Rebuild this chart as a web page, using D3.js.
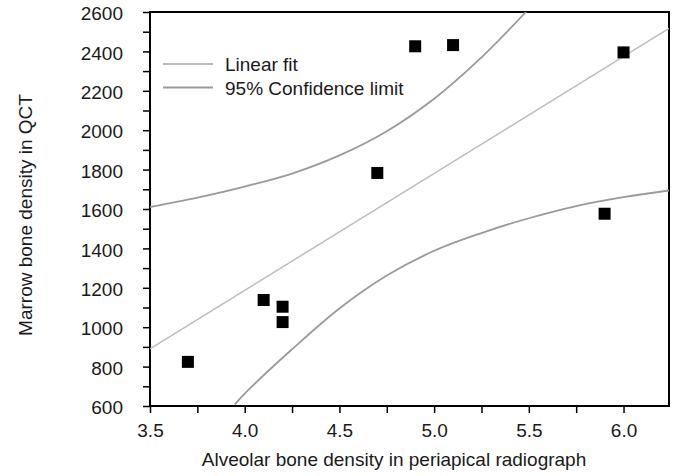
<!DOCTYPE html>
<html>
<head>
<meta charset="utf-8">
<script src="https://cdn.jsdelivr.net/npm/d3@7"></script>
<style>
  body { margin: 0; background: #fff; }
  svg { font-family: "Liberation Sans", Arial, sans-serif; }
</style>
</head>
<body>
<div id="chart"></div>
<script>
// Measured points (alveolar density, marrow density)
const radiograph = [3.7, 4.1, 4.2, 4.2, 4.7, 4.9, 5.1, 5.9, 6.0];
const qct = [824, 1138, 1104, 1026, 1783, 2426, 2432, 1576, 2395];

// Linear fit end points
const fitX = [3.5, 6.24];
const fitY = [890, 2517];

// 95% confidence limits
const upperX = [3.5, 3.75, 4.0, 4.25, 4.5, 4.75, 5.0, 5.25, 5.485];
const upperY = [1610, 1658, 1714, 1780, 1872, 1995, 2160, 2370, 2600];
const lowerX = [3.948, 4.0, 4.25, 4.5, 4.75, 5.0, 5.25, 5.5, 5.75, 6.0, 6.24];
const lowerY = [608, 663, 888, 1095, 1262, 1388, 1478, 1553, 1615, 1660, 1694];

const xTicks = [3.5, 3.75, 4.0, 4.25, 4.5, 4.75, 5.0, 5.25, 5.5, 5.75, 6.0];
const yTicks = d3.range(600, 2601, 100);

const margin = { top: 12, right: 9, bottom: 70, left: 150 };
const width = 678 - margin.left - margin.right;
const height = 476 - margin.top - margin.bottom;

const svg = d3.select("#chart")
    .append("svg")
    .attr("width", width + margin.left + margin.right)
    .attr("height", height + margin.top + margin.bottom)
    .append("g")
    .attr("transform", "translate(" + margin.left + "," + margin.top + ")");

const x = d3.scaleLinear().domain([3.5, 6.24]).range([0, width]);
const y = d3.scaleLinear().domain([600, 2600]).range([height, 0]);

svg.append("clipPath").attr("id", "plot-clip")
    .append("rect").attr("width", width).attr("height", height);

// axes
const xAxis = svg.append("g")
    .attr("transform", "translate(0," + height + ")")
    .call(d3.axisBottom(x)
        .tickValues(xTicks)
        .tickSize(7)
        .tickFormat(d => (Math.round(d * 100) % 50 === 0) ? d3.format(".1f")(d) : ""));
xAxis.select(".domain").remove();
xAxis.selectAll("line").attr("stroke", "#000").attr("stroke-width", 1.5);
xAxis.selectAll("text")
    .attr("y", 31).attr("dy", 0)
    .style("font-size", "19px").attr("fill", "#1a1a1a");

const yAxis = svg.append("g")
    .call(d3.axisLeft(y)
        .tickValues(yTicks)
        .tickSize(7)
        .tickFormat(d => d % 200 === 0 ? d : ""));
yAxis.select(".domain").remove();
yAxis.selectAll("line").attr("stroke", "#000").attr("stroke-width", 1.5);
yAxis.selectAll("text")
    .attr("x", -27).attr("dy", "0.4em")
    .style("font-size", "19px").attr("fill", "#1a1a1a");

// frame
svg.append("rect")
    .attr("width", width).attr("height", height)
    .attr("fill", "none").attr("stroke", "#000").attr("stroke-width", 2);

const lines = svg.append("g").attr("clip-path", "url(#plot-clip)");
const line = d3.line().x(d => x(d[0])).y(d => y(d[1]));
const curve = d3.line().x(d => x(d[0])).y(d => y(d[1])).curve(d3.curveCatmullRom);

lines.append("path")
    .datum(d3.zip(fitX, fitY))
    .attr("d", line)
    .attr("fill", "none").attr("stroke", "#bdbdbd").attr("stroke-width", 1.5);

[d3.zip(upperX, upperY), d3.zip(lowerX, lowerY)].forEach(pts => {
    lines.append("path")
        .datum(pts)
        .attr("d", curve)
        .attr("fill", "none").attr("stroke", "#9a9a9a").attr("stroke-width", 1.8);
});

// points
svg.selectAll(".pt")
    .data(d3.zip(radiograph, qct))
    .enter()
    .append("rect")
    .attr("class", "pt")
    .attr("x", d => x(d[0]) - 6)
    .attr("y", d => y(d[1]) - 6)
    .attr("width", 12).attr("height", 12)
    .attr("fill", "#000");

// legend
const legend = [
    { label: "Linear fit", color: "#bdbdbd" },
    { label: "95% Confidence limit", color: "#9a9a9a" }
];
const lg = svg.append("g").attr("transform", "translate(13,52)");
legend.forEach((d, i) => {
    lg.append("line")
        .attr("x1", 0).attr("x2", 50)
        .attr("y1", i * 23.5).attr("y2", i * 23.5)
        .attr("stroke", d.color).attr("stroke-width", 1.8);
    lg.append("text")
        .attr("x", 62).attr("y", i * 23.5 + 7)
        .style("font-size", "19px").attr("fill", "#1a1a1a")
        .text(d.label);
});

// axis titles
svg.append("text")
    .attr("text-anchor", "middle")
    .attr("x", 244)
    .attr("y", height + 60)
    .style("font-size", "19px").attr("fill", "#1a1a1a")
    .text("Alveolar bone density in periapical radiograph");

svg.append("text")
    .attr("text-anchor", "middle")
    .attr("transform", "translate(" + (32 - margin.left) + "," + (215 - margin.top) + ") rotate(-90)")
    .style("font-size", "19px").attr("fill", "#1a1a1a")
    .text("Marrow bone density in QCT");
</script>
</body>
</html>
